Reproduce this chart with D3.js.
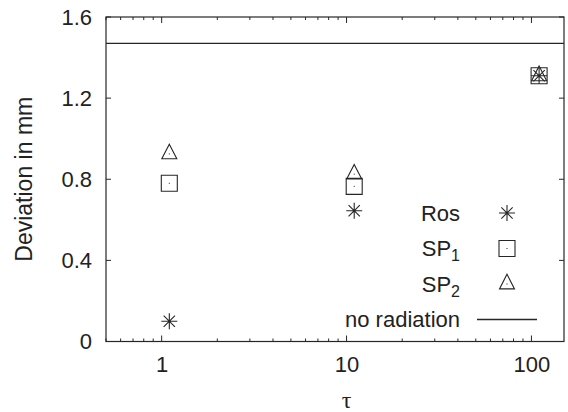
<!DOCTYPE html>
<html>
<head>
<meta charset="utf-8">
<script src="https://cdn.jsdelivr.net/npm/d3@7"></script>
<style>
  body { margin: 0; background: #fff; }
  text { font-family: "Liberation Sans", Arial, sans-serif; fill: #222; }
</style>
</head>
<body>
<div id="chart"></div>
<script>
// data
var tau = [1.1, 11, 110];
var ros = [0.10, 0.645, 1.31];
var sp1 = [0.78, 0.765, 1.31];
var sp2 = [0.925, 0.825, 1.31];
var noRadiation = 1.47;

var xTicks = [1, 10, 100];
var yTicks = [0, 0.4, 0.8, 1.2, 1.6];
var legendNames = ["Ros", "SP1", "SP2", "no radiation"];

// sizes
var width = 568, height = 412;
var margin = {top: 17, right: 4, bottom: 70.5, left: 106};
var cw = width - margin.left - margin.right;
var ch = height - margin.top - margin.bottom;
var ink = "#262626";
var fs = "22px";

var svg = d3.select("#chart").append("svg")
    .attr("width", width)
    .attr("height", height);

var g = svg.append("g")
    .attr("transform", "translate(" + margin.left + "," + margin.top + ")");

var x = d3.scaleLog().domain([0.5, 150]).range([0, cw]);
var y = d3.scaleLinear().domain([0, 1.6]).range([ch, 0]);

/* tick labels */
var xaxis = g.append("g")
    .attr("transform", "translate(0," + ch + ")")
    .call(d3.axisBottom(x).tickValues(xTicks).tickSize(0).tickPadding(15).tickFormat(d3.format("d")));
var yaxis = g.append("g")
    .call(d3.axisLeft(y).tickValues(yTicks).tickSize(0).tickPadding(14).tickFormat(function (d) { return d === 0 ? "0" : d3.format(".1f")(d); }));
[xaxis, yaxis].forEach(function (a) {
    a.select(".domain").remove();
    a.selectAll("text").style("font-size", fs).attr("fill", ink)
        .style("font-family", "'Liberation Sans', Arial, sans-serif");
});

/* inward ticks, mirrored on all sides */
var minor = x.ticks();
function isMajor(d) { return xTicks.indexOf(d) >= 0; }
g.selectAll(".xtick-b").data(minor).enter().append("line")
    .attr("x1", function (d) { return x(d); }).attr("x2", function (d) { return x(d); })
    .attr("y1", ch).attr("y2", function (d) { return ch - (isMajor(d) ? 6 : 3); })
    .attr("stroke", ink);
g.selectAll(".xtick-t").data(minor).enter().append("line")
    .attr("x1", function (d) { return x(d); }).attr("x2", function (d) { return x(d); })
    .attr("y1", 0).attr("y2", function (d) { return isMajor(d) ? 6 : 3; })
    .attr("stroke", ink);
g.selectAll(".ytick-l").data(yTicks).enter().append("line")
    .attr("x1", 0).attr("x2", 5)
    .attr("y1", function (d) { return y(d); }).attr("y2", function (d) { return y(d); })
    .attr("stroke", ink);
g.selectAll(".ytick-r").data(yTicks).enter().append("line")
    .attr("x1", cw).attr("x2", cw - 5)
    .attr("y1", function (d) { return y(d); }).attr("y2", function (d) { return y(d); })
    .attr("stroke", ink);

// frame
g.append("rect")
    .attr("width", cw).attr("height", ch)
    .attr("fill", "none").attr("stroke", ink).attr("stroke-width", 1.2);

/* axis titles */
svg.append("text")
    .attr("transform", "translate(32," + (margin.top + ch / 2) + ") rotate(-90)")
    .attr("text-anchor", "middle")
    .style("font-size", "23px")
    .text("Deviation in mm");
svg.append("text")
    .attr("x", margin.left + x(10))
    .attr("y", 408)
    .attr("text-anchor", "middle")
    .style("font-family", "'Liberation Serif', 'DejaVu Serif', serif")
    .style("font-size", "24px")
    .text("τ");

/* markers */
function starPath(s) {
    var d = s * 0.7071;
    return "M0," + (-s) + "V" + s + "M" + (-s) + ",0H" + s +
        "M" + (-d) + "," + (-d) + "L" + d + "," + d +
        "M" + (-d) + "," + d + "L" + d + "," + (-d);
}
function boxPath(s) {
    return "M" + (-s) + "," + (-s) + "H" + s + "V" + s + "H" + (-s) + "Z";
}
function triPath(s) {
    return "M0," + (-1.3 * s) + "L" + s + "," + (0.65 * s) + "L" + (-s) + "," + (0.65 * s) + "Z";
}
var dotPath = "M-0.5,0H0.5";

function drawMarker(sel, shape, dotted) {
    sel.append("path").attr("d", shape)
        .attr("fill", "none").attr("stroke", ink).attr("stroke-width", 1.1);
    if (dotted) sel.append("path").attr("d", dotPath).attr("stroke", ink).attr("stroke-width", 1);
}

var series = [
    {name: "Ros", vals: ros, shape: starPath(8), dot: false},
    {name: "SP1", vals: sp1, shape: boxPath(8), dot: true},
    {name: "SP2", vals: sp2, shape: triPath(7.5), dot: true}
];

series.forEach(function (s) {
    var pts = g.selectAll(".pt-" + s.name)
        .data(tau.map(function (t, i) { return {t: t, v: s.vals[i]}; }))
        .enter().append("g")
        .attr("transform", function (d) { return "translate(" + x(d.t) + "," + y(d.v) + ")"; });
    pts.each(function () { drawMarker(d3.select(this), s.shape, s.dot); });
});

// no radiation reference line
g.append("line")
    .attr("x1", 0).attr("x2", cw)
    .attr("y1", y(noRadiation)).attr("y2", y(noRadiation))
    .attr("stroke", ink).attr("stroke-width", 1.3);

/* legend */
var legend = svg.append("g");
legendNames.forEach(function (name, i) {
    var ly = 213 + i * 35.5;
    var t = legend.append("text")
        .attr("x", 460).attr("y", ly).attr("dy", "0.36em")
        .attr("text-anchor", "end")
        .style("font-size", fs);
    if (name.indexOf("SP") === 0) {
        t.append("tspan").text("SP");
        t.append("tspan").attr("dy", "0.3em").style("font-size", "16px").text(name.slice(2));
    } else {
        t.text(name);
    }
    var m = legend.append("g").attr("transform", "translate(507," + ly + ")");
    if (i < 3) {
        drawMarker(m, series[i].shape, series[i].dot);
    } else {
        legend.append("line")
            .attr("x1", 477).attr("x2", 537)
            .attr("y1", ly).attr("y2", ly)
            .attr("stroke", ink).attr("stroke-width", 1.3);
    }
});
</script>
</body>
</html>
